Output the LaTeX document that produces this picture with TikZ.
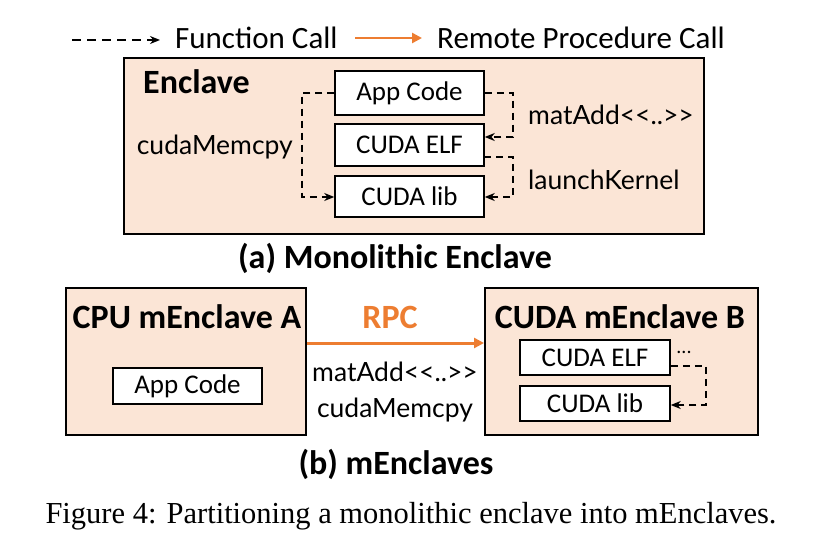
\documentclass[tikz,border=0pt]{standalone}
\usepackage{fontspec}
\setmainfont{Carlito}
\newfontfamily\capfont{Liberation Serif}
\newfontfamily\codefont{Lato}
\usetikzlibrary{arrows.meta}
\definecolor{peach}{HTML}{FBE5D6}
\definecolor{rpcorange}{HTML}{ED7D31}
\tikzset{
  outerbox/.style={draw=black, line width=2pt, fill=peach},
  innerbox/.style={draw=black, line width=1.5pt, fill=white, minimum width=149pt, inner sep=0pt, font=\fontsize{27}{30}\selectfont},
  fcall/.style={draw=black, line width=1.7pt, dash pattern=on 7pt off 5pt, -{Stealth[length=10pt,width=8pt]}},
  rpc/.style={draw=rpcorange, line width=3pt, -{Triangle[length=10pt,width=10pt]}},
  lbl/.style={font=\fontsize{26.5}{30}\selectfont\codefont, inner sep=0pt},
  ttl/.style={font=\fontsize{34}{38}\selectfont\bfseries, inner sep=0pt},
}
\begin{document}
\begin{tikzpicture}[x=1pt,y=-1pt]
\useasboundingbox (0,0) rectangle (821,545);
% legend
\coordinate (l1a) at (72,40);
\coordinate (l1b) at (160,40);
\draw[fcall, line width=2pt, dash pattern=on 9pt off 6pt] (l1a) -- (l1b);
\node[anchor=west, inner sep=0pt, font=\fontsize{31}{34}\selectfont] (lf) at (175,38) {Function Call};
\coordinate (l2a) at (355,38);
\coordinate (l2b) at (422,38);
\draw[rpc, line width=2.5pt] (l2a) -- (l2b);
\node[anchor=west, inner sep=0pt, font=\fontsize{31}{34}\selectfont] (lr) at (437,38) {Remote Procedure Call};
% (a)
\node[outerbox, minimum width=580pt, minimum height=176pt, anchor=north west, inner sep=0pt] (enc) at (123,57) {};
\node[ttl, anchor=west] (enct) at (143,82) {Enclave};
\node[innerbox, minimum height=44pt] (app) at (409.5,93) {App Code};
\node[innerbox, minimum height=42pt] (elf) at (409.5,145) {CUDA ELF};
\node[innerbox, minimum height=41pt] (lib) at (409.5,196.5) {CUDA lib};
\coordinate (c1) at (302,93);
\coordinate (c2) at (302,197);
\draw[fcall] (app.west) -- (c1) -- (c2) -- (lib.west |- c2);
\coordinate (m1) at (513,93);
\coordinate (m2) at (513,137);
\draw[fcall] (app.east) -- (m1) -- (m2) -- (elf.east |- m2);
\coordinate (k0) at (484,157);
\coordinate (k1) at (513,157);
\coordinate (k2) at (513,197);
\draw[fcall] (k0) -- (k1) -- (k2) -- (lib.east |- k2);
\node[lbl, anchor=east] (cm) at (293,147) {cudaMemcpy};
\node[lbl, anchor=west] (ma) at (528,115) {matAdd<<..>>};
\node[lbl, anchor=west] (lk) at (528,180) {launchKernel};
\node[ttl] (capa) at (395,258) {(a) Monolithic Enclave};
% (b)
\node[outerbox, minimum width=240pt, minimum height=147pt, anchor=north west, inner sep=0pt] (ea) at (65,287) {};
\node[ttl] (eat) at (187,317) {CPU mEnclave A};
\node[innerbox, minimum height=36pt] (app2) at (187.5,386) {App Code};
\node[outerbox, minimum width=273pt, minimum height=147pt, anchor=north west, inner sep=0pt] (eb) at (484,287) {};
\node[ttl] (ebt) at (620,317) {CUDA mEnclave B};
\node[innerbox, minimum width=150pt, minimum height=35pt] (elf2) at (595,357.5) {CUDA ELF};
\node[innerbox, minimum width=150pt, minimum height=35pt] (lib2) at (595,403.5) {CUDA lib};
\node[inner sep=0pt, font=\fontsize{20}{24}\selectfont] (dots) at (684,352) {...};
\coordinate (d1) at (706,366);
\coordinate (d2) at (706,405);
\draw[fcall] (elf2.east |- d1) -- (d1) -- (d2) -- (lib2.east |- d2);
\draw[rpc] (ea.east |- 0,343) -- (eb.west |- 0,343);
\node[ttl, text=rpcorange] (rpct) at (390,317) {RPC};
\node[lbl] (ma2) at (395,372) {matAdd<<..>>};
\node[lbl] (cm2) at (395,410) {cudaMemcpy};
\node[ttl] (capb) at (396,464) {(b) mEnclaves};
\node[inner sep=0pt, font=\fontsize{30.5}{34}\selectfont\capfont] (fig) at (411,516) {Figure 4: Partitioning a monolithic enclave into mEnclaves.};
\end{tikzpicture}
\end{document}
